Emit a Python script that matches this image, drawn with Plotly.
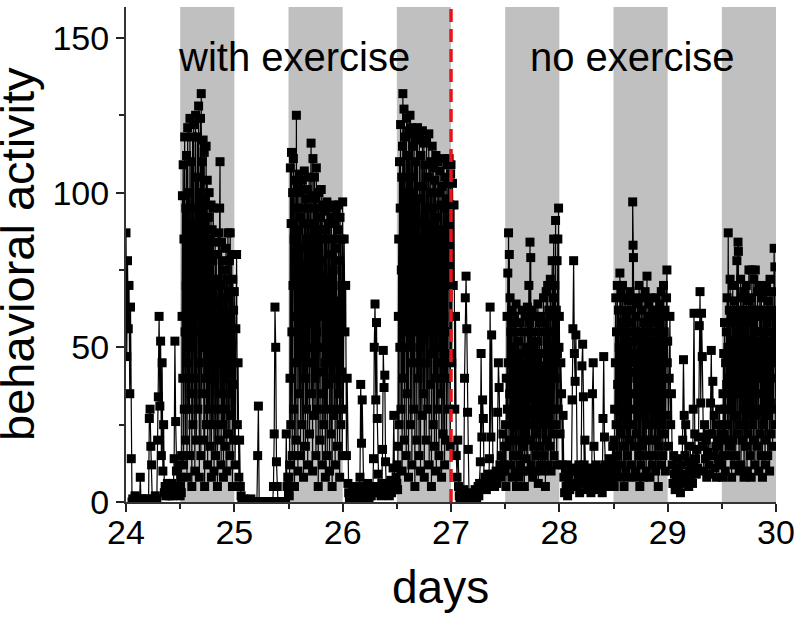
import numpy as np
import plotly.graph_objects as go

# ---- data: behavioral activity ----
# light phases (d.0 - d.5) sampled every 10 min, dark phases (d.5 - d+1) every 5 min
light24 = [87, 47, 78, 56, 70, 35, 63, 14, 0, 1, 0, 0, 2, 0, 0, 1, 0, 0, 0, 8,
           0, 1, 0, 0, 1, 0, 0, 0, 1, 0, 0, 27, 30, 18, 12, 0, 1, 0, 0, 2,
           0, 1, 20, 34, 60, 31, 52, 15, 45, 10, 25, 3, 5, 2, 4, 6, 3, 5, 2, 4,
           3, 6, 2, 5, 14, 52, 26, 10, 4, 5, 12, 3]
dark24 = [2, 5, 8, 3, 15, 60, 99, 40, 109, 12, 85, 30,
          118, 55, 20, 95, 70, 112, 8, 45, 121, 65, 30, 100,
          80, 15, 124, 50, 90, 35, 110, 5, 75, 118, 25, 60,
          122, 40, 95, 10, 85, 125, 55, 20, 105, 70, 118, 30,
          90, 128, 45, 8, 100, 60, 124, 15, 132, 75, 35, 110,
          50, 117, 85, 20, 113, 5, 65, 98, 40, 115, 25, 80,
          104, 12, 60, 92, 30, 100, 70, 18, 85, 45, 96, 8,
          55, 88, 25, 78, 95, 40, 10, 70, 60, 84, 15, 50,
          80, 30, 65, 5, 72, 45, 87, 20, 58, 95, 110, 35,
          70, 12, 84, 48, 25, 62, 78, 8, 55, 40, 75, 18,
          66, 30, 82, 50, 10, 72, 42, 87, 22, 60, 35, 78,
          15, 87, 50, 68, 28, 80, 45, 5, 72, 38, 62, 20]
light25 = [68, 12, 56, 80, 25, 45, 8, 20, 5, 2, 0, 0, 0, 1, 0, 0, 0, 0, 0, 0,
           0, 0, 1, 0, 0, 0, 0, 0, 0, 0, 0, 15, 31, 0, 0, 0, 0, 0, 0, 0,
           0, 0, 0, 0, 0, 0, 0, 0, 0, 0, 0, 0, 5, 22, 63, 50, 13, 5, 0, 0,
           0, 0, 0, 0, 0, 0, 0, 0, 0, 22, 5, 8]
dark25 = [3, 8, 2, 12, 40, 108, 25, 90, 113, 55, 15, 100,
          70, 111, 30, 85, 5, 104, 60, 95, 20, 125, 45, 78,
          102, 10, 88, 50, 106, 35, 92, 70, 15, 100, 60, 82,
          25, 104, 48, 95, 8, 75, 107, 40, 90, 18, 98, 62,
          30, 85, 101, 12, 70, 95, 45, 105, 22, 80, 58, 99,
          116, 35, 90, 65, 10, 111, 50, 85, 28, 105, 72, 40,
          98, 15, 108, 55, 82, 30, 95, 5, 70, 100, 42, 88,
          20, 92, 60, 101, 35, 78, 12, 96, 50, 85, 25, 70,
          94, 45, 8, 88, 62, 30, 97, 15, 72, 55, 90, 38,
          80, 10, 95, 48, 68, 22, 92, 58, 5, 85, 40, 75,
          96, 28, 60, 90, 12, 82, 45, 94, 30, 65, 18, 88,
          52, 96, 35, 78, 8, 92, 60, 25, 85, 42, 70, 15]
light26 = [97, 30, 85, 55, 70, 15, 40, 6, 3, 1, 0, 2, 0, 4, 1, 0, 3, 5, 2, 0,
           4, 3, 1, 8, 38, 19, 33, 4, 2, 5, 3, 0, 2, 6, 4, 1, 3, 5, 2, 4,
           3, 14, 50, 64, 33, 58, 27, 9, 5, 3, 4, 2, 6, 17, 49, 37, 41, 13, 4, 6,
           3, 5, 2, 4, 7, 3, 5, 11, 28, 6, 4, 8]
dark26 = [6, 12, 4, 18, 60, 85, 25, 110, 50, 95, 122, 30,
          75, 105, 10, 115, 132, 40, 90, 127, 20, 65, 118, 55,
          100, 15, 124, 70, 35, 112, 85, 8, 120, 50, 95, 125,
          25, 105, 60, 121, 12, 88, 115, 45, 100, 30, 119, 75,
          5, 110, 55, 92, 117, 20, 80, 121, 40, 98, 65, 15,
          118, 50, 85, 10, 112, 70, 102, 28, 120, 60, 90, 35,
          116, 8, 75, 109, 45, 95, 20, 117, 65, 85, 30, 105,
          55, 119, 12, 90, 70, 110, 38, 100, 5, 82, 115, 48,
          95, 25, 108, 62, 18, 104, 80, 40, 112, 10, 92, 58,
          30, 110, 72, 100, 15, 88, 50, 107, 35, 96, 65, 8,
          102, 45, 85, 22, 111, 60, 95, 12, 105, 75, 40, 98,
          20, 109, 55, 90, 30, 103, 70, 111, 48, 96, 18, 106]
light27 = [109, 45, 103, 70, 96, 30, 60, 15, 8, 20, 5, 2, 0, 3, 1, 0, 2, 4, 40, 66,
           73, 56, 29, 17, 2, 0, 1, 3, 0, 2, 1, 0, 4, 2, 1, 3, 5, 2, 6, 13,
           48, 21, 33, 27, 5, 8, 6, 4, 7, 9, 5, 14, 63, 21, 54, 8, 6, 9, 5, 7,
           10, 6, 29, 45, 37, 12, 8, 15, 10, 22, 12, 18]
dark27 = [10, 25, 5, 40, 18, 60, 30, 74, 45, 87, 20, 80,
          35, 66, 12, 55, 28, 62, 8, 50, 38, 58, 15, 45,
          25, 60, 10, 48, 32, 64, 5, 42, 20, 55, 30, 15,
          52, 8, 40, 25, 58, 12, 35, 48, 20, 62, 10, 30,
          45, 18, 55, 5, 38, 60, 22, 50, 14, 42, 28, 63,
          10, 48, 30, 70, 20, 58, 84, 35, 79, 12, 45, 25,
          62, 8, 50, 33, 18, 55, 40, 10, 60, 28, 46, 15,
          52, 22, 38, 64, 6, 44, 30, 58, 18, 48, 12, 35,
          60, 25, 42, 10, 55, 32, 66, 15, 48, 28, 58, 5,
          40, 68, 20, 52, 35, 70, 12, 45, 62, 25, 55, 18,
          72, 38, 10, 60, 48, 78, 22, 66, 30, 85, 15, 55,
          70, 40, 91, 25, 62, 12, 78, 48, 85, 30, 95, 50]
light28 = [60, 22, 45, 35, 12, 28, 8, 3, 10, 5, 12, 2, 7, 9, 4, 11, 6, 33, 56, 78,
           48, 39, 54, 10, 5, 8, 12, 3, 7, 9, 44, 51, 34, 12, 20, 6, 10, 4, 8, 11,
           5, 9, 3, 7, 35, 45, 18, 10, 6, 12, 4, 9, 7, 11, 5, 8, 10, 3, 27, 47,
           21, 12, 7, 11, 5, 9, 14, 6, 10, 8, 13, 18]
dark28 = [8, 20, 5, 30, 12, 45, 66, 25, 55, 10, 70, 38,
          15, 62, 30, 50, 8, 74, 40, 22, 68, 12, 58, 35,
          70, 18, 45, 62, 5, 55, 28, 66, 40, 10, 60, 25,
          50, 15, 65, 35, 8, 58, 42, 20, 68, 30, 12, 52,
          25, 62, 45, 97, 83, 79, 18, 55, 35, 66, 10, 48,
          60, 22, 40, 8, 64, 30, 52, 15, 70, 38, 5, 55,
          45, 12, 62, 28, 50, 18, 66, 35, 8, 58, 42, 20,
          68, 30, 55, 10, 48, 73, 25, 60, 40, 15, 64, 35,
          52, 8, 45, 66, 20, 58, 32, 12, 62, 40, 25, 55,
          15, 60, 38, 48, 10, 66, 28, 52, 20, 62, 35, 5,
          58, 42, 18, 64, 30, 50, 12, 68, 40, 25, 60, 15,
          48, 70, 22, 55, 35, 62, 10, 52, 28, 66, 75, 45]
light29 = [52, 18, 40, 60, 25, 35, 12, 6, 15, 9, 4, 11, 7, 14, 5, 10, 8, 3, 12, 6,
           20, 46, 28, 15, 25, 9, 7, 13, 5, 10, 18, 8, 12, 6, 30, 61, 22, 14, 9, 17,
           11, 21, 57, 68, 32, 61, 47, 18, 10, 25, 14, 20, 8, 16, 22, 12, 9, 32, 49, 22,
           39, 15, 28, 11, 18, 8, 25, 14, 20, 30, 12, 22]
dark29 = [12, 25, 8, 35, 15, 48, 22, 58, 30, 10, 45, 20,
          55, 38, 66, 25, 50, 87, 40, 15, 62, 30, 72, 18,
          45, 60, 8, 52, 35, 70, 20, 58, 42, 12, 65, 28,
          50, 15, 62, 38, 78, 22, 55, 84, 81, 35, 10, 60,
          45, 25, 72, 12, 58, 40, 66, 20, 50, 30, 68, 8,
          55, 35, 62, 18, 48, 70, 28, 10, 60, 42, 22, 65,
          75, 30, 52, 15, 66, 40, 8, 58, 75, 25, 45, 62,
          20, 72, 35, 55, 12, 75, 42, 28, 60, 18, 50, 68,
          30, 62, 10, 48, 40, 70, 22, 55, 15, 66, 35, 52,
          8, 60, 45, 25, 68, 30, 55, 12, 62, 40, 20, 70,
          38, 58, 15, 65, 28, 52, 45, 10, 72, 32, 60, 22,
          55, 40, 68, 18, 62, 30, 50, 82, 45, 76, 25, 60]

day_starts = [24, 25, 26, 27, 28, 29]
dark_starts = [24.5, 25.5, 26.5, 27.5, 28.5, 29.5]
dark_ends = [25.0, 26.0, 27.0, 28.0, 29.0, 30.0]
switch_day = 27
x_ticks = [24, 25, 26, 27, 28, 29, 30]
y_ticks = [0, 50, 100, 150]
labels = ["with exercise", "no exercise"]
label_x = [25.548, 28.675]
label_y = 144.0

lights = [light24, light25, light26, light27, light28, light29]
darks = [dark24, dark25, dark26, dark27, dark28, dark29]
xs, ys = [], []
for d, lv, dv in zip(day_starts, lights, darks):
    xs.extend(d + np.arange(len(lv)) / 144.0)
    ys.extend(lv)
    xs.extend(d + 0.5 + np.arange(len(dv)) / 288.0)
    ys.extend(dv)

FONT = "Liberation Sans, Arial, sans-serif"

fig = go.Figure()
fig.add_trace(go.Scatter(
    x=xs, y=ys, mode="lines+markers",
    line=dict(color="black", width=1.2),
    marker=dict(symbol="square", size=9, color="black"),
    showlegend=False, hoverinfo="skip",
))

shapes = []
for a, b in zip(dark_starts, dark_ends):
    shapes.append(dict(type="rect", xref="x", yref="paper", x0=a, x1=b, y0=0, y1=1,
                       fillcolor="#c0c0c0", line=dict(width=0), layer="below"))
shapes.append(dict(type="line", xref="x", yref="paper", x0=switch_day, x1=switch_day,
                   y0=0, y1=1, line=dict(color="#e8141c", width=3.5, dash="13px,7px"),
                   layer="above"))

annotations = []
for t, lx in zip(labels, label_x):
    annotations.append(dict(x=lx, y=label_y, xref="x", yref="y", text=t, showarrow=False,
                            font=dict(family=FONT, size=40, color="black"),
                            xanchor="center", yanchor="middle"))
annotations.append(dict(x=-0.1677, y=0.501, xref="paper", yref="paper",
                        text="behavioral activity", textangle=-90, showarrow=False,
                        font=dict(family=FONT, size=47, color="black"),
                        xanchor="center", yanchor="middle"))
annotations.append(dict(x=0.4846, y=-0.172, xref="paper", yref="paper",
                        text="days", showarrow=False,
                        font=dict(family=FONT, size=46, color="black"),
                        xanchor="center", yanchor="middle"))

fig.update_layout(
    template="none",
    width=797, height=617,
    margin=dict(l=126, r=21, t=7, b=115, pad=0, autoexpand=False),
    paper_bgcolor="white", plot_bgcolor="white",
    shapes=shapes, annotations=annotations,
    font=dict(family=FONT, color="black"),
)
fig.update_xaxes(
    range=[24, 30], tickvals=x_ticks, ticks="outside", ticklen=8, tickwidth=2,
    tickcolor="#222", showline=True, linecolor="#333", linewidth=2, automargin=False,
    showgrid=False, zeroline=False, tickfont=dict(family=FONT, size=34, color="black"),
    ticklabelstandoff=-9,
    minor=dict(ticks="outside", ticklen=5, tickwidth=2, tickcolor="#222", dtick=0.5,
               tick0=24, showgrid=False),
)
fig.update_yaxes(
    range=[0, 160], tickvals=y_ticks, ticks="outside", ticklen=8, tickwidth=2,
    tickcolor="#222", showline=True, linecolor="#333", linewidth=2, automargin=False,
    showgrid=False, zeroline=False, tickfont=dict(family=FONT, size=34, color="black"),
    minor=dict(ticks="outside", ticklen=5, tickwidth=2, tickcolor="#222", dtick=25,
               tick0=0, showgrid=False),
)

# remove the browser's default 8px body margin and scrollbars so the figure fills the window
page_css = ("document.documentElement.style.margin='0';"
            "document.documentElement.style.overflow='hidden';"
            "document.body.style.margin='0';"
            "document.body.style.overflow='hidden';")
fig.write_html("out.html", post_script=page_css, config={"displayModeBar": False})
